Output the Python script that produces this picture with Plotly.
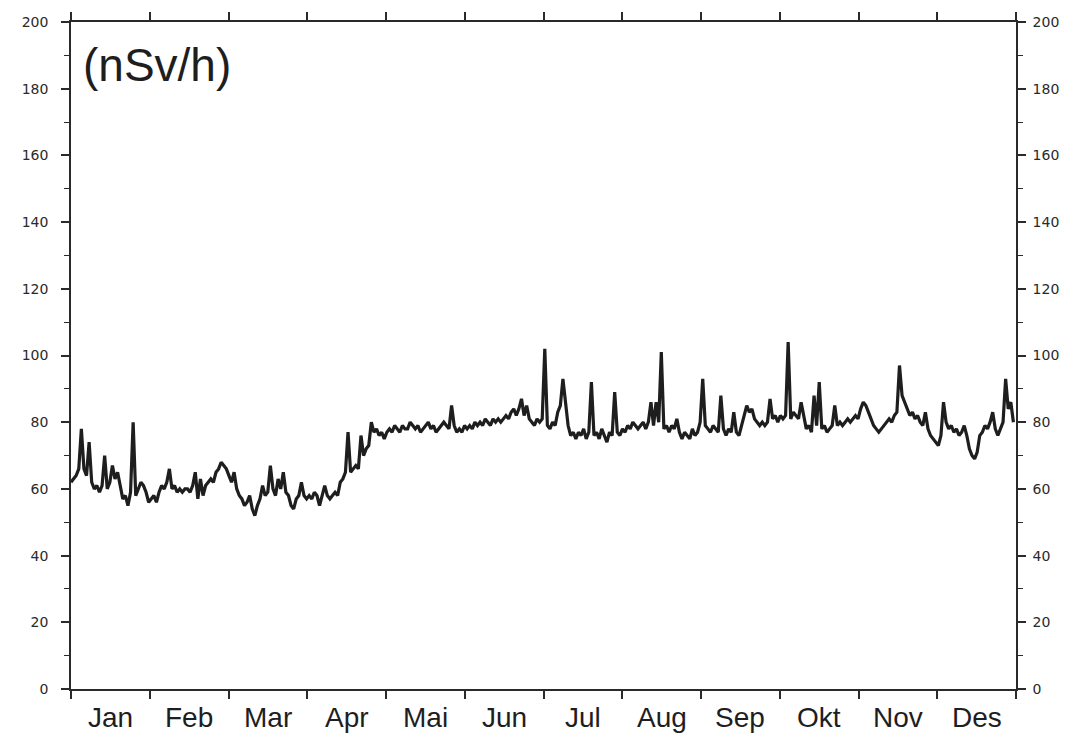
import numpy as np
import plotly.graph_objects as go

# Daily ambient dose-rate readings (nSv/h), grouped by month
jan = [62, 63, 64, 66, 78, 66, 64, 74, 62, 60, 61, 59, 61, 70, 60, 62, 67, 63, 65, 61,
       57, 58, 55, 59, 80, 58, 60, 62, 61, 59, 56]
feb = [57, 58, 56, 59, 61, 60, 62, 66, 60, 61, 59, 60, 59, 60, 60, 59, 61, 65, 57, 63,
       58, 61, 62, 63, 62, 65, 66, 68]
mar = [67, 66, 64, 62, 65, 60, 58, 57, 55, 56, 58, 54, 52, 55, 57, 61, 58, 59, 67, 60,
       58, 63, 60, 65, 59, 58, 55, 54, 57, 58, 62]
apr = [58, 57, 58, 57, 59, 58, 55, 58, 61, 58, 57, 58, 59, 58, 62, 63, 65, 77, 65, 66,
       67, 66, 76, 70, 72, 73, 80, 77, 78, 76, 77, 75]
mai = [77, 78, 77, 79, 78, 77, 79, 78, 78, 80, 79, 78, 79, 77, 78, 79, 80, 78, 79, 77,
       78, 79, 80, 79, 78, 85, 79, 77, 78, 77, 79]
jun = [78, 79, 78, 80, 79, 80, 79, 81, 80, 79, 81, 80, 81, 80, 81, 82, 81, 83, 84, 82,
       84, 87, 82, 85, 81, 80, 79, 81, 80, 81]
jul = [102, 79, 78, 80, 79, 83, 85, 93, 86, 79, 76, 77, 75, 77, 76, 78, 75, 77, 92, 76,
       77, 75, 78, 76, 74, 77, 76, 89, 77, 76, 78]
aug = [77, 79, 78, 80, 79, 78, 79, 80, 78, 80, 86, 79, 86, 80, 101, 78, 79, 77, 79, 78,
       81, 77, 75, 77, 76, 75, 78, 76, 77, 80]
sep = [93, 79, 78, 77, 79, 78, 77, 88, 78, 76, 78, 77, 83, 77, 76, 79, 82, 85, 83, 84,
       81, 80, 79, 80, 79, 80, 87, 81, 82, 80, 82]
okt = [81, 82, 104, 81, 83, 82, 81, 86, 82, 78, 79, 77, 88, 79, 92, 78, 79, 77, 78, 79,
       85, 79, 80, 79, 80, 81, 80, 81, 82, 81]
nov = [84, 86, 85, 83, 81, 79, 78, 77, 78, 79, 80, 81, 80, 82, 83, 97, 88, 86, 84, 82,
       83, 81, 82, 80, 79, 83, 78, 76, 75, 74]
des = [73, 76, 86, 80, 78, 79, 77, 78, 76, 77, 79, 76, 72, 70, 69, 71, 76, 77, 79, 78,
       80, 83, 78, 76, 78, 80, 93, 84, 86, 80]

months = ["Jan", "Feb", "Mar", "Apr", "Mai", "Jun",
          "Jul", "Aug", "Sep", "Okt", "Nov", "Des"]
y_ticks = list(range(0, 201, 20))

values = jan + feb + mar + apr + mai + jun + jul + aug + sep + okt + nov + des
days = np.arange(len(values))
year_len = 365
month_edges = [k * year_len / 12 for k in range(13)]
month_mids = [(k + 0.5) * year_len / 12 for k in range(12)]

ink = "#1e1e1e"
axis_ink = "#2a2a2a"

fig = go.Figure()
fig.add_trace(go.Scatter(
    x=days, y=values, mode="lines",
    line=dict(color=ink, width=3.2),
    hoverinfo="skip", showlegend=False,
))
# invisible trace so the right-hand axis gets drawn
fig.add_trace(go.Scatter(x=[0], y=[0], yaxis="y2", mode="markers",
                         marker=dict(opacity=0), hoverinfo="skip", showlegend=False))

tick_font = dict(family="DejaVu Sans", size=14, color=axis_ink)

fig.update_layout(
    width=1071, height=739,
    margin=dict(l=71, r=52, t=21, b=50),
    paper_bgcolor="white", plot_bgcolor="white",
    xaxis=dict(
        range=[0, year_len], tickvals=month_edges, showticklabels=False,
        ticks="outside", ticklen=8, tickwidth=1.5, tickcolor=axis_ink,
        showline=True, linecolor=axis_ink, linewidth=1.6, mirror="ticks",
        showgrid=False, zeroline=False,
    ),
    yaxis=dict(
        range=[0, 200], tickvals=y_ticks, ticks="outside", ticklen=8,
        tickwidth=1.5, tickcolor=axis_ink, tickfont=tick_font,
        ticklabelstandoff=10,
        minor=dict(dtick=10, ticks="outside", ticklen=5, tickcolor=axis_ink, tickwidth=1.2),
        showline=True, linecolor=axis_ink, linewidth=1.6, mirror=True,
        showgrid=False, zeroline=False,
    ),
    yaxis2=dict(
        range=[0, 200], tickvals=y_ticks, overlaying="y", side="right",
        ticks="outside", ticklen=8, tickwidth=1.5, tickcolor=axis_ink,
        tickfont=tick_font, ticklabelstandoff=4,
        minor=dict(dtick=10, ticks="outside", ticklen=5, tickcolor=axis_ink, tickwidth=1.2),
        showline=True, linecolor=axis_ink, linewidth=1.6,
        showgrid=False, zeroline=False,
    ),
)

for mid, name in zip(month_mids, months):
    fig.add_annotation(
        x=mid, y=-0.042, xref="x", yref="paper", text=name, showarrow=False,
        font=dict(family="Liberation Sans", size=28, color=ink),
        xanchor="center", yanchor="middle",
    )

fig.add_annotation(
    x=0.011, y=0.936, xref="paper", yref="paper", text="(nSv/h)", showarrow=False,
    font=dict(family="Liberation Sans", size=46, color=ink),
    xanchor="left", yanchor="middle",
)

fig.write_html("out.html")
